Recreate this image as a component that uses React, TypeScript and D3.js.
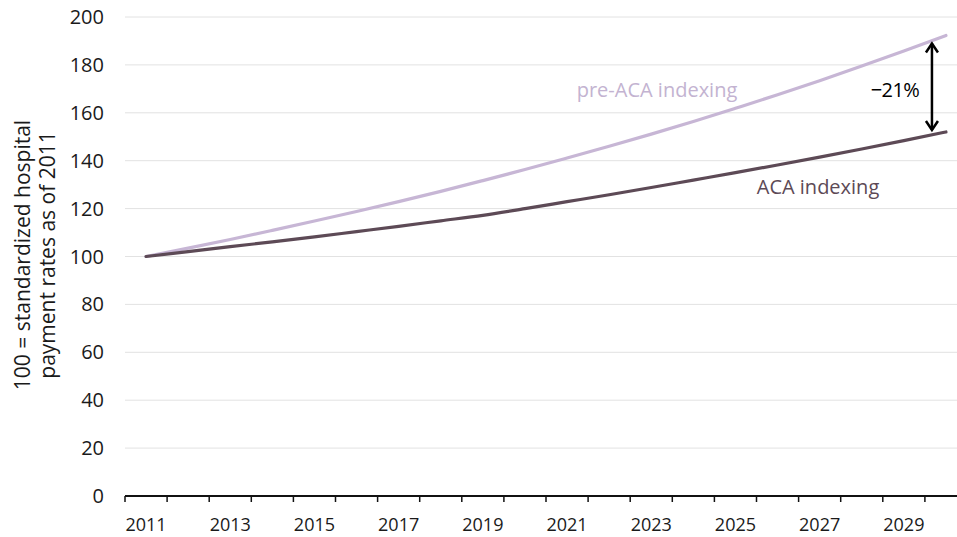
import React from 'react';
import * as d3 from 'd3';

// years on the x axis
const years = [
  2011, 2012, 2013, 2014, 2015, 2016, 2017, 2018, 2019, 2020,
  2021, 2022, 2023, 2024, 2025, 2026, 2027, 2028, 2029, 2030,
];

// index, 100 = 2011
const preAcaValues = [
  100, 103.5, 107.1, 110.9, 114.8, 118.8, 122.9, 127.2, 131.7, 136.3,
  141.1, 146.0, 151.1, 156.4, 161.9, 167.5, 173.4, 179.5, 185.8, 192.3,
];
const acaValues = [
  100, 102.0, 104.1, 106.1, 108.2, 110.4, 112.6, 114.9, 117.2, 120.0,
  122.9, 125.8, 128.8, 131.9, 135.0, 138.2, 141.5, 144.9, 148.4, 152.0,
];

const yTicks = [0, 20, 40, 60, 80, 100, 120, 140, 160, 180, 200];
const xLabels = [2011, 2013, 2015, 2017, 2019, 2021, 2023, 2025, 2027, 2029];
const gapLabel = '\u221221%';

const W = 957;
const H = 537;
const font = '"Open Sans", Lato, sans-serif';

const App = () => {
  const margin = { top: 17, left: 125, bottom: 41 };

  const x = d3
    .scaleBand<number>()
    .domain(years)
    .range([margin.left, margin.left + years.length * 42.1])
    .padding(0);

  const y = d3
    .scaleLinear()
    .domain([0, 200])
    .range([H - margin.bottom, margin.top]);

  const cx = (yr: number) => (x(yr) as number) + x.bandwidth() / 2;

  const line = d3
    .line<number>()
    .x((d, i) => cx(years[i]))
    .y((d) => y(d))
    .curve(d3.curveMonotoneX);

  const last = years.length - 1;
  const arrowX = cx(years[last]) - 14;
  const arrowTop = y(preAcaValues[last]) + 8;
  const arrowBottom = y(acaValues[last]) - 2;

  return (
    <div style={{ position: 'fixed', left: 0, top: 0 }}>
      <svg width={W} height={H} style={{ display: 'block', background: '#fff' }}>
        {/* gridlines + y labels */}
        {yTicks.map((t) => (
          <g key={t}>
            {t > 0 && (
              <line x1={margin.left} x2={W} y1={y(t)} y2={y(t)} stroke="#e2e2e2" strokeWidth={1} />
            )}
            <text
              x={104}
              y={y(t)}
              dy="0.35em"
              textAnchor="end"
              fontFamily={font}
              fontSize={20}
              fill="#1a1a1a"
            >
              {t}
            </text>
          </g>
        ))}

        {/* y axis title */}
        <g transform={`translate(30, 255) rotate(-90)`}>
          <text textAnchor="middle" fontFamily={font} fontSize={21} fill="#1a1a1a">
            100 = standardized hospital
          </text>
          <text y={25} textAnchor="middle" fontFamily={font} fontSize={21} fill="#1a1a1a">
            payment rates as of 2011
          </text>
        </g>

        {/* x axis */}
        <line x1={margin.left} x2={W} y1={y(0)} y2={y(0)} stroke="#111" strokeWidth={2} />
        {years.map((yr) => (
          <line
            key={yr}
            x1={x(yr) as number}
            x2={x(yr) as number}
            y1={y(0)}
            y2={y(0) + 6}
            stroke="#111"
            strokeWidth={1.5}
          />
        ))}
        {xLabels.map((yr) => (
          <text
            key={yr}
            x={cx(yr)}
            y={y(0) + 29}
            dy="0.35em"
            textAnchor="middle"
            fontFamily={font}
            fontSize={18}
            fill="#1a1a1a"
          >
            {yr}
          </text>
        ))}

        {/* lines */}
        <path d={line(preAcaValues) || ''} fill="none" stroke="#c7b6d5" strokeWidth={3.2} strokeLinecap="round" />
        <path d={line(acaValues) || ''} fill="none" stroke="#5d4a56" strokeWidth={3.2} strokeLinecap="round" />

        {/* labels */}
        <text x={657} y={90} dy="0.35em" textAnchor="middle" fontFamily={font} fontSize={20} fill="#c3b3d1">
          pre-ACA indexing
        </text>
        <text x={818} y={187} dy="0.35em" textAnchor="middle" fontFamily={font} fontSize={20} fill="#5d4a56">
          ACA indexing
        </text>

        {/* gap arrow */}
        <line x1={arrowX} x2={arrowX} y1={arrowTop} y2={arrowBottom} stroke="#000" strokeWidth={2.5} />
        <path
          d={`M${arrowX - 6},${arrowTop + 9} L${arrowX},${arrowTop} L${arrowX + 6},${arrowTop + 9}`}
          fill="none"
          stroke="#000"
          strokeWidth={2.5}
        />
        <path
          d={`M${arrowX - 6},${arrowBottom - 9} L${arrowX},${arrowBottom} L${arrowX + 6},${arrowBottom - 9}`}
          fill="none"
          stroke="#000"
          strokeWidth={2.5}
        />
        <text x={895} y={90} dy="0.35em" textAnchor="middle" fontFamily={font} fontSize={20} letterSpacing={-0.6} fill="#000">
          {gapLabel}
        </text>
      </svg>
    </div>
  );
};

export default App;
